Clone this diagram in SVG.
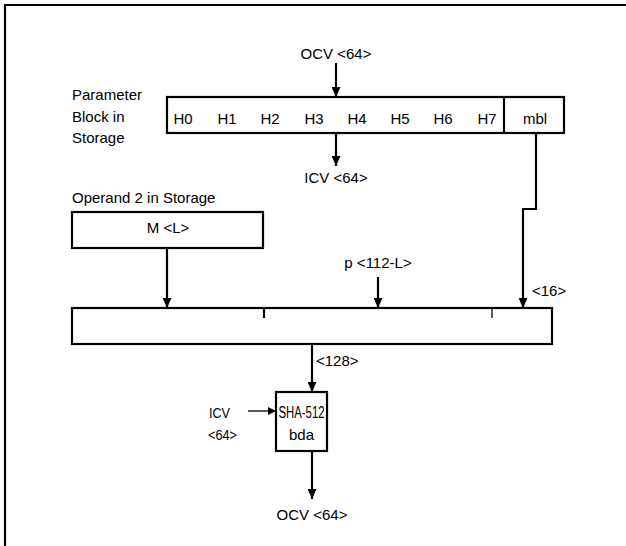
<svg xmlns="http://www.w3.org/2000/svg" width="626" height="546" viewBox="0 0 626 546">
<defs>
<marker id="ah" markerWidth="10" markerHeight="9" refX="10" refY="4.5" orient="auto" markerUnits="userSpaceOnUse">
<path d="M0,0 L10,4.5 L0,9 Z" fill="#000"/>
</marker>
<marker id="ahs" markerWidth="8" markerHeight="8" refX="8" refY="4" orient="auto" markerUnits="userSpaceOnUse">
<path d="M0,0 L8,4 L0,8 Z" fill="#000"/>
</marker>
</defs>
<style>
text{font-family:"Liberation Sans",Arial,sans-serif;font-size:15px;fill:#000}
.c{text-anchor:middle}
.box{fill:#fff;stroke:#000;stroke-width:2.2}
.ln{fill:none;stroke:#000;stroke-width:2.2}
.th{fill:none;stroke:#000;stroke-width:1.3}
</style>
<rect width="626" height="546" fill="#fff"/>
<path class="ln" d="M5,546 V5 H626"/>

<g id="param-block">
<text x="72" y="100">Parameter</text>
<text x="72" y="122">Block in</text>
<text x="72" y="143">Storage</text>
<rect class="box" x="167" y="97" width="397" height="36"/>
<line class="ln" x1="504" y1="97" x2="504" y2="133"/>
<text class="c" x="183" y="124">H0</text>
<text class="c" x="227" y="124">H1</text>
<text class="c" x="270" y="124">H2</text>
<text class="c" x="314" y="124">H3</text>
<text class="c" x="357" y="124">H4</text>
<text class="c" x="400" y="124">H5</text>
<text class="c" x="443" y="124">H6</text>
<text class="c" x="487" y="124">H7</text>
<text class="c" x="535" y="124">mbl</text>
</g>

<g id="operand2">
<text x="72" y="203">Operand 2 in Storage</text>
<rect class="box" x="72" y="212" width="191" height="36"/>
<text class="c" x="168" y="233">M &lt;L&gt;</text>
</g>

<g id="concat-block">
<rect class="box" x="72" y="308" width="480" height="36"/>
<line class="ln" x1="264" y1="308" x2="264" y2="318"/>
<line class="th" x1="492" y1="308" x2="492" y2="318"/>
</g>

<g id="sha512">
<rect class="box" x="276" y="392" width="51" height="59"/>
<text x="278.5" y="418" style="font-size:16px" textLength="46" lengthAdjust="spacingAndGlyphs">SHA-512</text>
<text class="c" x="301.5" y="440">bda</text>
</g>

<g id="labels">
<text class="c" x="336" y="59">OCV &lt;64&gt;</text>
<text class="c" x="336" y="183">ICV &lt;64&gt;</text>
<text class="c" x="378" y="268">p &lt;112-L&gt;</text>
<text x="532" y="296">&lt;16&gt;</text>
<text x="316" y="366">&lt;128&gt;</text>
<text x="209" y="418" textLength="21" lengthAdjust="spacingAndGlyphs">ICV</text>
<text x="208" y="440" textLength="29" lengthAdjust="spacingAndGlyphs">&lt;64&gt;</text>
<text class="c" x="312" y="520">OCV &lt;64&gt;</text>
</g>

<g id="connectors">
<line class="ln" x1="336" y1="63" x2="336" y2="97" marker-end="url(#ah)"/>
<line class="ln" x1="336" y1="133" x2="336" y2="166" marker-end="url(#ah)"/>
<path class="ln" d="M536,133 V209 H523 V308" marker-end="url(#ah)"/>
<line class="ln" x1="167" y1="248" x2="167" y2="308" marker-end="url(#ah)"/>
<line class="ln" x1="378" y1="277" x2="378" y2="308" marker-end="url(#ah)"/>
<line class="ln" x1="312" y1="344" x2="312" y2="392" marker-end="url(#ah)"/>
<line class="th" x1="248" y1="411" x2="276" y2="411" marker-end="url(#ahs)"/>
<line class="ln" x1="312" y1="451" x2="312" y2="499" marker-end="url(#ah)"/>
</g>
</svg>
